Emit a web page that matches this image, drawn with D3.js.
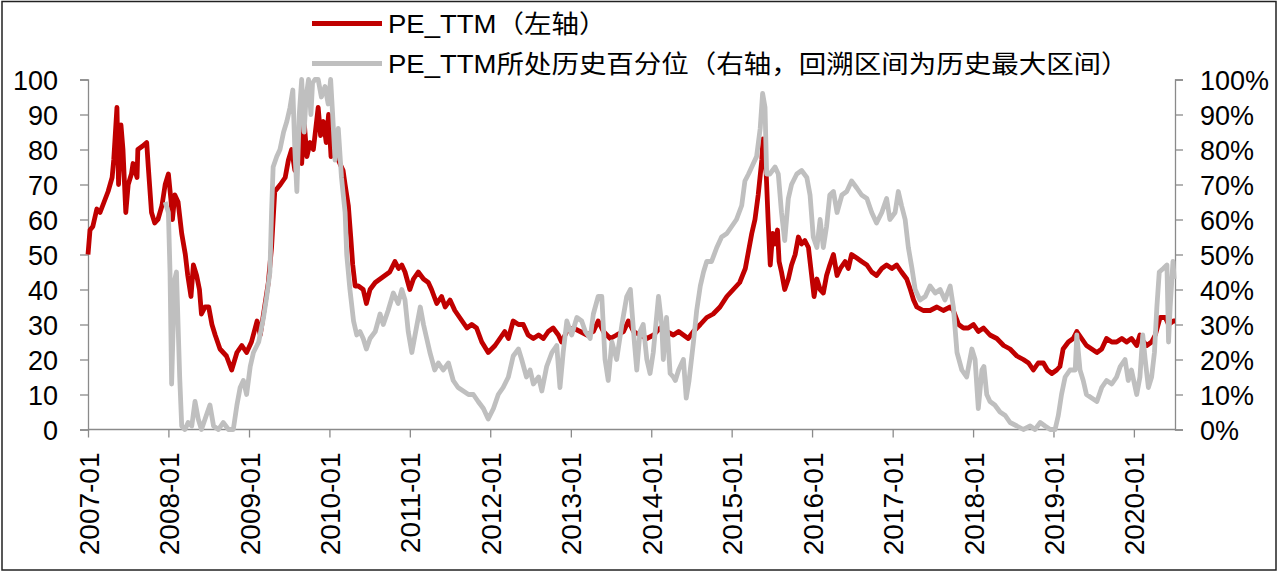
<!DOCTYPE html>
<html><head><meta charset="utf-8">
<script src="https://cdn.jsdelivr.net/npm/d3@7"></script>
<style>
html,body{margin:0;padding:0;background:#fff;}
svg text{font-family:"Liberation Sans",Arial,"Noto Sans CJK SC",sans-serif;fill:#000;}
</style></head>
<body><svg id="c" width="1280" height="578"></svg>
<script>
// ---- data (decimal years) ----
const peT = [2007.00,2007.025,2007.06,2007.11,2007.15,2007.20,2007.25,2007.30,2007.32,2007.36,2007.38,2007.41,2007.435,2007.47,2007.50,2007.54,2007.56,2007.61,2007.62,2007.68,2007.73,2007.75,2007.79,2007.83,2007.87,2007.92,2007.96,
2008.00,2008.03,2008.05,2008.08,2008.12,2008.165,2008.21,2008.24,2008.28,2008.31,2008.35,2008.385,2008.41,2008.455,2008.50,2008.54,2008.58,2008.64,2008.72,2008.785,2008.85,2008.91,2008.97,
2009.03,2009.10,2009.14,2009.20,2009.24,2009.28,2009.32,2009.39,2009.45,2009.49,2009.53,2009.57,2009.61,2009.655,2009.685,2009.72,2009.76,2009.80,2009.82,2009.86,2009.89,2009.925,2009.96,2009.99,
2010.02,2010.05,2010.17,2010.195,2010.235,2010.265,2010.29,2010.32,2010.36,2010.42,2010.46,2010.505,2010.57,2010.63,2010.69,2010.75,2010.815,2010.86,2010.90,2010.94,
2011.00,2011.045,2011.105,2011.17,2011.23,2011.27,2011.335,2011.395,2011.44,2011.50,2011.56,2011.62,2011.71,2011.77,2011.83,2011.895,2011.975,
2012.06,2012.12,2012.18,2012.225,2012.285,2012.35,2012.41,2012.47,2012.535,2012.60,2012.66,2012.72,2012.78,2012.845,2012.885,2012.95,
2013.03,2013.115,2013.20,2013.28,2013.34,2013.405,2013.49,2013.57,2013.655,2013.715,2013.78,2013.86,2013.945,
2014.03,2014.11,2014.19,2014.275,2014.34,2014.40,2014.46,2014.525,2014.61,2014.69,2014.77,2014.855,2014.94,
2015.02,2015.10,2015.17,2015.21,2015.25,2015.29,2015.33,2015.375,2015.39,2015.43,2015.455,2015.48,2015.51,2015.54,2015.57,2015.59,2015.62,2015.66,2015.705,2015.745,2015.79,2015.83,2015.87,2015.91,2015.955,2015.995,
2016.025,2016.06,2016.10,2016.14,2016.18,2016.22,2016.265,2016.31,2016.35,2016.41,2016.45,2016.49,2016.555,2016.615,2016.68,2016.74,2016.80,2016.865,2016.925,2016.99,
2017.05,2017.11,2017.175,2017.22,2017.26,2017.30,2017.38,2017.465,2017.55,2017.63,2017.715,2017.755,2017.82,2017.88,2017.94,
2018.005,2018.065,2018.13,2018.21,2018.295,2018.38,2018.46,2018.545,2018.625,2018.69,2018.75,2018.81,2018.875,2018.925,2018.98,
2019.04,2019.08,2019.12,2019.185,2019.245,2019.29,2019.35,2019.41,2019.475,2019.54,2019.60,2019.66,2019.725,2019.785,2019.85,2019.91,2019.97,
2020.035,2020.075,2020.12,2020.16,2020.22,2020.265,2020.325,2020.39,2020.43,2020.49,2020.51];
const peV = [50,57,58,63,62,65,68,72,77,92,70,87,80,62,70,73,76,72,80,81,82,75,62,59,60,64,70,
73,66,60,67,65,56,50,44,38,47,44,40,33,35,35,30,27,23,21,17,22,24,22,
25,31,27,36,42,52,68,70,72,77,80,74,85,76,88,78,82,80,84,92,84,88,82,90,
78,80,74,70,64,55,47,41,41,40,36,40,42,43,44,45,48,46,47,45,
40,43,45,43,42,40,36,38,35,37,34,32,29,30,29,25,22,
24,26,28,26,31,30,30,27,26,27,26,28,29,27,25,28,
29,28,27,28,31,28,26,27,28,31,28,27,26,
27,29,28,27,28,27,26,28,30,32,33,35,38,
40,42,46,51,56,60,67,77,83,73,59,47,56,53,57,48,45,40,43,47,50,55,53,54,52,44,
38,43,40,39,44,47,50,44,46,48,46,50,49,48,47,45,44,46,47,46,
47,45,43,40,37,35,34,34,35,34,35,34,30,29,29,
30,28,29,27,26,24,23,21,20,19,17,19,19,17,16,
17,18,23,25,26,28,26,24,23,22,23,26,25,25,26,25,26,
24,27,25,24,25,27,32,32,30,31,31];

const pctT = [2007.96,2008.00,2008.02,2008.04,2008.06,2008.08,2008.10,2008.12,2008.14,2008.165,2008.205,2008.245,2008.29,2008.33,2008.37,2008.41,2008.455,2008.515,2008.56,2008.62,2008.68,2008.745,2008.805,2008.85,2008.89,2008.93,2008.97,
2009.015,2009.055,2009.12,2009.18,2009.22,2009.26,2009.28,2009.30,2009.345,2009.385,2009.43,2009.47,2009.51,2009.545,2009.57,2009.595,2009.625,2009.655,2009.685,2009.71,2009.74,2009.77,2009.79,2009.82,2009.86,2009.90,2009.945,2009.985,
2010.015,2010.04,2010.07,2010.11,2010.15,2010.195,2010.215,2010.255,2010.30,2010.34,2010.38,2010.42,2010.46,2010.505,2010.57,2010.63,2010.67,2010.73,2010.795,2010.855,2010.90,2010.94,2010.98,
2011.025,2011.065,2011.13,2011.17,2011.21,2011.25,2011.31,2011.355,2011.415,2011.48,2011.54,2011.60,2011.665,2011.73,2011.79,2011.85,2011.915,2011.975,
2012.04,2012.10,2012.16,2012.225,2012.285,2012.35,2012.39,2012.45,2012.495,2012.535,2012.60,2012.64,2012.70,2012.765,2012.825,2012.865,2012.905,2012.95,
2013.01,2013.075,2013.135,2013.18,2013.24,2013.28,2013.34,2013.385,2013.425,2013.465,2013.51,2013.57,2013.635,2013.695,2013.74,2013.79,2013.82,2013.86,2013.90,2013.945,2013.985,
2014.025,2014.09,2014.13,2014.15,2014.19,2014.235,2014.275,2014.30,2014.34,2014.40,2014.435,2014.47,2014.525,2014.565,2014.61,2014.65,2014.69,2014.75,2014.815,2014.875,2014.94,
2015.00,2015.06,2015.125,2015.165,2015.21,2015.25,2015.31,2015.355,2015.385,2015.415,2015.435,2015.475,2015.54,2015.58,2015.62,2015.66,2015.705,2015.745,2015.81,2015.87,2015.935,2015.975,
2016.015,2016.06,2016.10,2016.14,2016.18,2016.22,2016.265,2016.31,2016.37,2016.43,2016.49,2016.555,2016.615,2016.68,2016.74,2016.80,2016.865,2016.925,2016.965,
2017.03,2017.07,2017.11,2017.155,2017.195,2017.24,2017.28,2017.34,2017.405,2017.465,2017.53,2017.59,2017.65,2017.715,2017.755,2017.80,2017.86,2017.92,2017.985,
2018.025,2018.065,2018.11,2018.135,2018.17,2018.21,2018.27,2018.335,2018.40,2018.46,2018.545,2018.625,2018.71,2018.77,2018.835,2018.895,2018.96,
2019.02,2019.06,2019.10,2019.145,2019.205,2019.27,2019.29,2019.33,2019.37,2019.41,2019.475,2019.54,2019.60,2019.66,2019.725,2019.785,2019.83,2019.89,2019.93,2019.97,
2020.035,2020.075,2020.11,2020.14,2020.18,2020.22,2020.255,2020.285,2020.315,2020.365,2020.41,2020.43,2020.45,2020.485,2020.50];
const pctV = [65,62,45,13,30,43,45,30,15,1,0,2,1,8,3,0,3,7,1,0,2,0,0,7,12,14,10,
18,22,25,32,38,45,62,75,78,80,85,88,92,97,80,68,90,100,85,95,100,90,99,100,100,95,98,93,
100,90,77,86,72,62,50,40,31,27,28,26,23,26,28,33,30,34,39,36,40,37,28,
22,27,35,30,26,22,17,19,17,19,14,12,11,10,10,8,6,3,
6,10,12,15,21,23,20,15,17,13,15,11,18,22,24,12,22,31,
27,32,31,28,26,33,38,38,20,14,25,20,30,38,40,25,17,28,30,20,16,
22,38,30,20,32,16,15,14,17,20,9,14,25,34,41,45,48,48,52,55,56,
58,60,64,71,73,75,78,86,96,92,73,73,75,73,62,54,66,70,73,74,72,67,
55,52,60,52,58,67,68,62,67,68,71,69,67,66,62,59,62,66,60,
62,68,64,60,52,46,40,37,38,41,39,40,37,41,35,22,17,15,23,
20,6,17,18,10,8,7,5,4,2,1,0,1,0,2,1,0,
0,4,10,15,17,17,27,17,14,10,9,8,12,14,13,15,18,20,14,17,
10,15,27,20,12,15,22,35,45,46,47,25,35,48,43];

const leftTicks = [0,10,20,30,40,50,60,70,80,90,100];
const rightTicks = [0,0.1,0.2,0.3,0.4,0.5,0.6,0.7,0.8,0.9,1];
const xTickYears = [2007,2008,2009,2010,2011,2012,2013,2014,2015,2016,2017,2018,2019,2020];
const legendLabels = ["PE_TTM（左轴）","PE_TTM所处历史百分位（右轴，回溯区间为历史最大区间）"];
const colors = ["#C00000","#BFBFBF"];

// ---- helpers ----
function toDate(t){const y=Math.floor(t);const a=new Date(y,0,1),b=new Date(y+1,0,1);return new Date(+a+(t-y)*(b-a));}

const svg = d3.select("#c");
const L=88, R=1175, T=79.5, B=429.5;
const x = d3.scaleTime().domain([toDate(2007.0), toDate(2020.51)]).range([L,R]);
const yL = d3.scaleLinear().domain([0,100]).range([B,T]);
const yR = d3.scaleLinear().domain([0,1]).range([B,T]);

// frame
svg.append("rect").attr("x",2).attr("y",1.5).attr("width",1274).attr("height",568.5)
  .attr("fill","none").attr("stroke","#222").attr("stroke-width",1.5);

const axisColor="#8a8a8a";
function styleAxis(g,fs){
  g.selectAll(".domain").attr("stroke",axisColor).attr("stroke-width",1.3);
  g.selectAll(".tick line").attr("stroke",axisColor).attr("stroke-width",1.3);
  g.selectAll(".tick text").attr("font-size",fs).attr("fill","#000")
   .style("font-family",'"Liberation Sans",Arial,sans-serif');
}

// left axis
const gL = svg.append("g").attr("transform",`translate(${L},0)`)
  .call(d3.axisLeft(yL).tickValues(leftTicks).tickSize(8).tickPadding(22).tickFormat(d3.format("d")));
styleAxis(gL,27);
gL.selectAll(".tick text").attr("dy","0.36em");

// right axis
const gR = svg.append("g").attr("transform",`translate(${R},0)`)
  .call(d3.axisRight(yR).tickValues(rightTicks).tickSize(8).tickPadding(17).tickFormat(d3.format(".0%")));
styleAxis(gR,27);
gR.selectAll(".tick text").attr("dy","0.36em");

// bottom axis
const gB = svg.append("g").attr("transform",`translate(0,${B})`)
  .call(d3.axisBottom(x).tickValues(xTickYears.map(y=>new Date(y,0,1))).tickSize(8).tickFormat(d3.timeFormat("%Y-%m")));
gB.select(".domain").attr("d",`M${L},0H${R}`);
styleAxis(gB,28);
gB.selectAll(".tick text").attr("text-anchor","end").attr("transform","rotate(-90)")
  .attr("x",-23).attr("y",0).attr("dy","0.36em");

// lines
const line = (ys)=>d3.line().x(d=>x(toDate(d[0]))).y(d=>ys(d[1])).curve(d3.curveLinear);
const peData = peT.map((t,i)=>[t,peV[i]]);
const pctData = pctT.map((t,i)=>[t,pctV[i]/100]);
svg.append("path").datum(peData).attr("d",line(yL)).attr("fill","none")
  .attr("stroke",colors[0]).attr("stroke-width",4.8).attr("stroke-linejoin","round");
svg.append("path").datum(pctData).attr("d",line(yR)).attr("fill","none")
  .attr("stroke",colors[1]).attr("stroke-width",4.8).attr("stroke-linejoin","round");

// legend
const legY=[23.5,63.5];
legendLabels.forEach((lab,i)=>{
  svg.append("line").attr("x1",312).attr("x2",382).attr("y1",legY[i]).attr("y2",legY[i])
    .attr("stroke",colors[i]).attr("stroke-width",5);
  svg.append("text").attr("transform",`translate(388,${legY[i]+9}) scale(1.1,1)`)
    .attr("font-size",25).text(lab);
});
</script></body></html>
